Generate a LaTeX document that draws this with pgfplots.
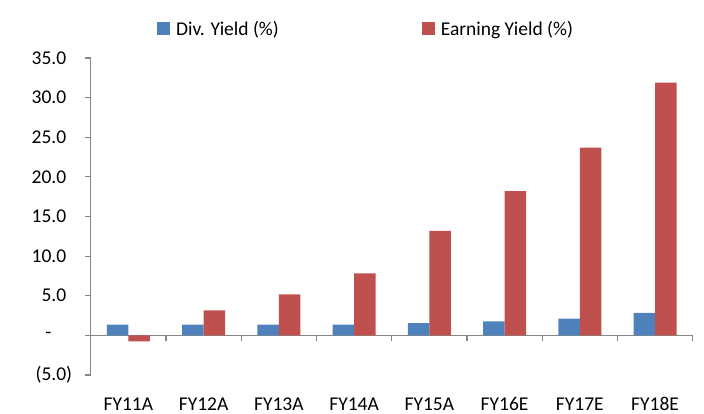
\documentclass[border=0pt]{standalone}
\usepackage{fontspec}
\setmainfont{Carlito}
\usepackage{pgfplots}
\pgfplotsset{compat=1.18}
\definecolor{divblue}{HTML}{4F81BD}
\definecolor{earnred}{HTML}{C0504D}
\definecolor{axgray}{HTML}{868686}

\begin{document}
\begin{tikzpicture}
\begin{axis}[
  scale only axis,
  width=602pt, height=317pt,
  ybar=0pt,
  bar width=21.5pt,
  xmin=-0.5, xmax=7.5,
  ymin=-5, ymax=35,
  axis x line=middle,
  axis y line=left,
  axis line style={-, draw=axgray, line width=1.2pt},
  xtick={0,...,7},
  xticklabels={FY11A,FY12A,FY13A,FY14A,FY15A,FY16E,FY17E,FY18E},
  minor xtick={0.5,1.5,...,7.5},
  major x tick style={draw=none},
  minor tick length=6pt,
  ytick={-5,0,5,...,35},
  yticklabels={{(5.0)},{-\hphantom{.0)}},{5.0\hphantom{)}},{10.0\hphantom{)}},{15.0\hphantom{)}},{20.0\hphantom{)}},{25.0\hphantom{)}},{30.0\hphantom{)}},{35.0\hphantom{)}}},
  major tick length=6pt,
  tick align=outside,
  tick style={draw=axgray, line width=1.2pt},
  tick label style={font=\fontsize{19.5}{22}\selectfont, text=black},
  /pgf/number format/assume math mode=true,
  xticklabel style={anchor=north, inner sep=0pt, text height=13pt, text depth=0pt, yshift=-56pt},
  yticklabel style={anchor=east, xshift=-9pt},
  legend style={at={(0.11,1)}, anchor=west, yshift=29pt, draw=none, fill=none,
    inner sep=0pt, font=\fontsize{19.5}{22}\selectfont,
    /tikz/every even column/.append style={column sep=141pt}},
  legend columns=2,
  legend image code/.code={\fill[#1] (0pt,-6.5pt) rectangle (13pt,6.5pt); \path (0pt,0pt) -- (17pt,0pt);},
]
\addplot[fill=divblue, draw=none] coordinates {
  (0,1.35) (1,1.35) (2,1.35) (3,1.35) (4,1.56) (5,1.77) (6,2.1) (7,2.83)};
\addlegendentry{Div. Yield (\%)}
\addplot[fill=earnred, draw=none] coordinates {
  (0,-0.76) (1,3.16) (2,5.18) (3,7.83) (4,13.2) (5,18.2) (6,23.7) (7,31.9)};
\addlegendentry{Earning Yield (\%)}
\coordinate (bl) at (rel axis cs:0,0);
\end{axis}
\pgfresetboundingbox
\path[use as bounding box] (bl) ++(-90.7pt,-39pt) rectangle ++(704pt,414pt);
\end{tikzpicture}
\end{document}
